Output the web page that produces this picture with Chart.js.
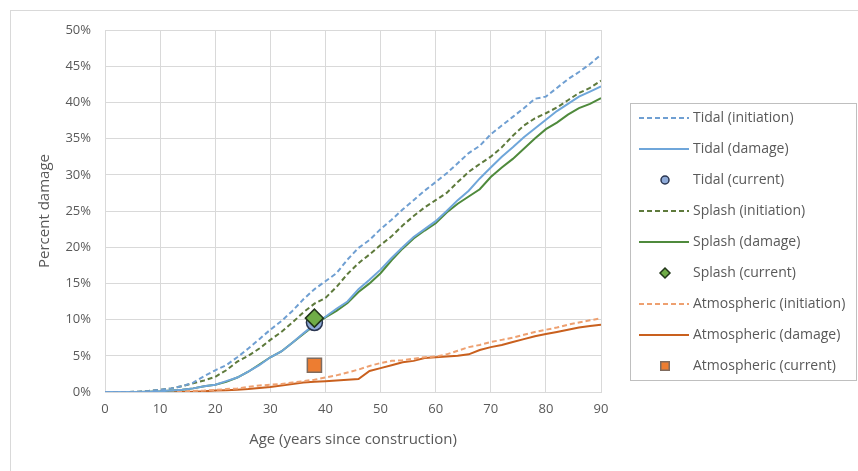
<!DOCTYPE html>
<html>
<head>
<meta charset="utf-8">
<script src="https://cdn.jsdelivr.net/npm/chart.js@4.4.1/dist/chart.umd.min.js"></script>
<style>
  body { margin: 0; background: #fff; }
</style>
</head>
<body>
<canvas id="c" width="858" height="471"></canvas>
<script>
// ages, every 2 years
const ages = [0,2,4,6,8,10,12,14,16,18,20,22,24,26,28,30,32,34,36,38,40,42,44,46,48,50,52,54,56,58,60,62,64,66,68,70,72,74,76,78,80,82,84,86,88,90];

// percent damage
const tidalInit = [0,0,0,0.05,0.15,0.3,0.5,0.8,1.3,2.2,3.0,3.7,4.8,6.0,7.3,8.6,9.8,11.2,12.8,14.2,15.3,16.4,18.3,19.9,21.0,22.5,23.8,25.2,26.5,27.8,29.0,30.2,31.6,33.0,34.0,35.6,36.8,38.0,39.2,40.5,40.8,42.0,43.2,44.2,45.3,46.6];
const tidalDamage = [0,0,0,0,0.05,0.1,0.2,0.3,0.5,0.8,1.0,1.5,2.0,2.8,3.7,4.8,5.6,6.8,8.1,9.3,10.4,11.5,12.5,14.2,15.5,16.9,18.5,20.0,21.4,22.5,23.6,25.0,26.5,27.8,29.5,31.0,32.5,33.8,35.2,36.4,37.6,38.8,39.8,40.8,41.5,42.2];
const splashInit = [0,0,0,0.05,0.15,0.3,0.5,0.8,1.2,1.6,2.1,3.0,4.2,5.0,6.0,7.2,8.3,9.6,11.0,12.2,13.0,14.5,16.3,17.8,19.0,20.3,21.5,23.0,24.3,25.5,26.5,27.5,29.0,30.4,31.5,32.5,33.8,35.4,36.8,37.8,38.5,39.3,40.3,41.3,42.0,43.0];
const splashDamage = [0,0,0,0,0.05,0.1,0.2,0.3,0.5,0.8,1.0,1.4,2.0,2.8,3.8,4.8,5.6,6.8,8.0,9.2,10.3,11.2,12.3,13.8,15.0,16.4,18.2,19.8,21.2,22.3,23.3,24.8,26.0,27.0,28.0,29.7,31.0,32.2,33.6,35.0,36.3,37.2,38.3,39.2,39.8,40.6];
const atmosInit = [0,0,0,0,0,0,0.05,0.1,0.15,0.2,0.3,0.4,0.5,0.7,0.9,1.0,1.1,1.3,1.5,1.7,2.0,2.3,2.7,3.1,3.6,4.0,4.3,4.4,4.6,4.8,4.9,5.2,5.7,6.2,6.5,6.9,7.2,7.5,7.9,8.3,8.6,8.9,9.3,9.6,9.9,10.2];
const atmosDamage = [0,0,0,0,0,0,0,0,0.05,0.1,0.2,0.25,0.3,0.4,0.55,0.7,0.9,1.1,1.3,1.4,1.5,1.6,1.7,1.8,2.9,3.3,3.7,4.1,4.3,4.7,4.8,4.9,5.0,5.2,5.8,6.2,6.5,6.9,7.3,7.7,8.0,8.3,8.6,8.9,9.1,9.3];

// current observations (age, percent)
const tidalCurrent = [{x: 38, y: 9.6}];
const splashCurrent = [{x: 38, y: 10.2}];
const atmosCurrent = [{x: 38, y: 3.7}];

const yTicks = [0,5,10,15,20,25,30,35,40,45,50];

const series = (vals) => ages.map((a, i) => ({x: a, y: vals[i]}));
const txt = '#595959';
const font = "'Open Sans', Lato, sans-serif";

function lineDs(label, vals, color, dashed) {
  return {
    label, type: 'line', data: series(vals),
    borderColor: color, backgroundColor: color,
    borderWidth: 2, borderDash: dashed ? [5, 3] : [],
    pointRadius: 0, tension: 0, fill: false, order: 2
  };
}
function pointDs(label, pts, style, r, fill, edge, legendR, order) {
  return {
    label, type: 'scatter', data: pts, showLine: false,
    pointStyle: style, pointRadius: r, pointHoverRadius: r,
    backgroundColor: fill, borderColor: edge, pointBorderWidth: 1.5,
    legendR, order
  };
}

const datasets = [
  lineDs('Tidal (initiation)', tidalInit, '#6f9fd2', true),
  lineDs('Tidal (damage)', tidalDamage, '#6fa6da', false),
  pointDs('Tidal (current)', tidalCurrent, 'circle', 8, '#8eaad8', '#2a3550', 4, 1),
  lineDs('Splash (initiation)', splashInit, '#5e7a3c', true),
  lineDs('Splash (damage)', splashDamage, '#4f8a3c', false),
  pointDs('Splash (current)', splashCurrent, 'rectRot', 9, '#70ad47', '#22361a', 5, 0),
  lineDs('Atmospheric (initiation)', atmosInit, '#eea070', true),
  lineDs('Atmospheric (damage)', atmosDamage, '#c9601e', false),
  pointDs('Atmospheric (current)', atmosCurrent, 'rect', 10, '#ed7d31', '#7f6b5e', 6, 0)
];

const frameAndLegend = {
  id: 'frameAndLegend',
  beforeDraw(chart) {
    const ctx = chart.ctx;
    ctx.save();
    ctx.fillStyle = '#fff';
    ctx.fillRect(0, 0, chart.width, chart.height);
    ctx.strokeStyle = '#d9d9d9';
    ctx.lineWidth = 1;
    ctx.strokeRect(10.5, 10.5, chart.width + 20, chart.height + 20);
    ctx.restore();
  },
  afterDraw(chart) {
    const ctx = chart.ctx;
    ctx.save();
    ctx.strokeStyle = '#bfbfbf';
    ctx.lineWidth = 1;
    ctx.strokeRect(630.5, 103.5, 226, 277);
    ctx.font = '14px ' + font;
    ctx.textBaseline = 'middle';
    ctx.fillStyle = txt;
    chart.data.datasets.forEach((d, i) => {
      const y = 118 + i * 31;
      if (d.type === 'line') {
        ctx.strokeStyle = d.borderColor;
        ctx.lineWidth = 2;
        ctx.setLineDash(d.borderDash);
        ctx.beginPath();
        ctx.moveTo(639, y);
        ctx.lineTo(689, y);
        ctx.stroke();
        ctx.setLineDash([]);
      } else {
        ctx.fillStyle = d.backgroundColor;
        ctx.strokeStyle = d.borderColor;
        ctx.lineWidth = 1.5;
        Chart.helpers.drawPoint(ctx, {pointStyle: d.pointStyle, radius: d.legendR, borderWidth: 1.5}, 665, y);
      }
      ctx.fillStyle = txt;
      ctx.fillText(d.label, 693, y);
    });
    ctx.restore();
  }
};

new Chart(document.getElementById('c'), {
  type: 'line',
  data: { datasets },
  plugins: [frameAndLegend],
  options: {
    responsive: false,
    animation: false,
    layout: { padding: { left: 0, top: 30, right: 257, bottom: 0 } },
    plugins: { legend: { display: false }, tooltip: { enabled: false } },
    scales: {
      x: {
        type: 'linear', min: 0, max: 90,
        afterFit: (s) => { s.height = 79; },
        ticks: { stepSize: 10, color: txt, font: { family: font, size: 13 }, padding: 9 },
        grid: { color: '#d9d9d9', drawTicks: false },
        border: { color: '#d9d9d9' },
        title: { display: true, text: 'Age (years since construction)', color: txt,
                 font: { family: font, size: 15 }, padding: { top: 0, bottom: 22 } }
      },
      y: {
        min: 0, max: 50,
        afterFit: (s) => { s.width = 105; },
        afterBuildTicks: (s) => { s.ticks = yTicks.map(v => ({value: v})); },
        ticks: { color: txt, font: { family: font, size: 13 }, padding: 14,
                 callback: (v) => v + '%' },
        grid: { color: '#d9d9d9', drawTicks: false },
        border: { display: false },
        title: { display: true, text: 'Percent damage', color: txt,
                 font: { family: font, size: 15 }, padding: { top: 36, bottom: 36 } }
      }
    }
  }
});
</script>
</body>
</html>
